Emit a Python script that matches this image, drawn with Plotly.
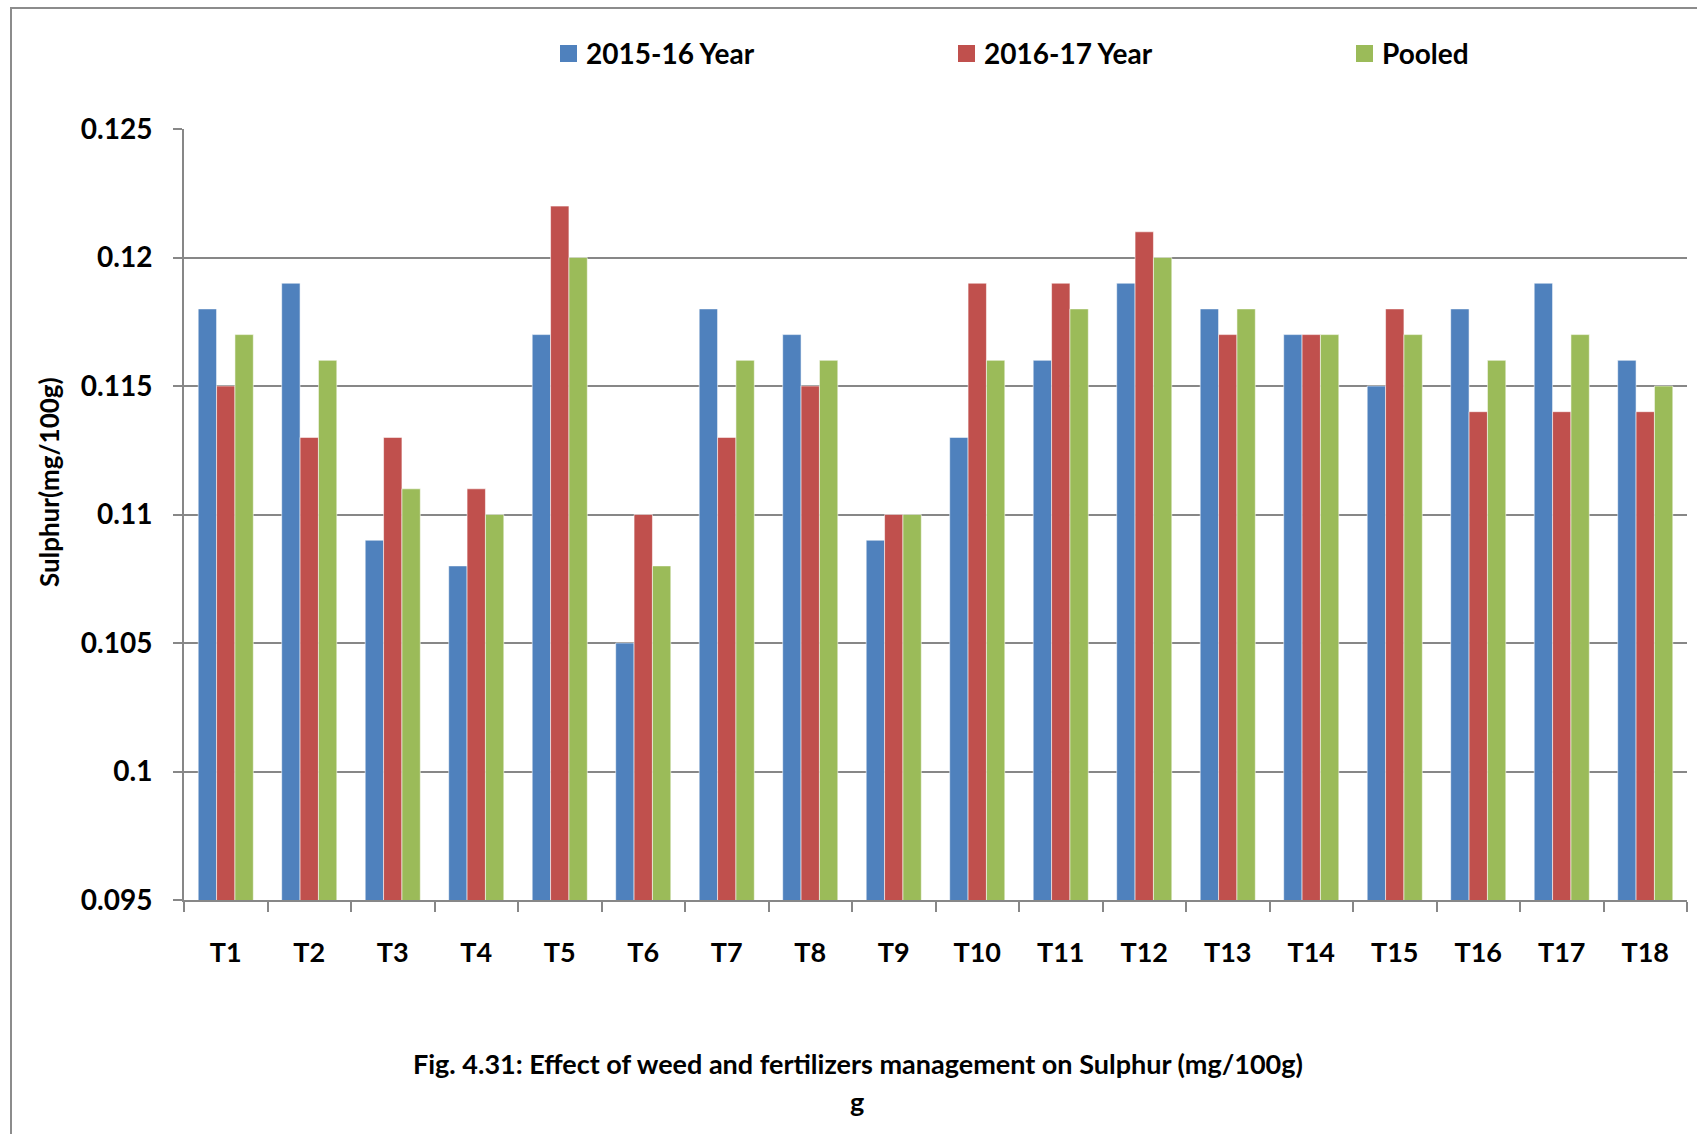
import plotly.graph_objects as go

# Treatments and sulphur content (mg/100g) for each season and the pooled mean
treatments = ["T1", "T2", "T3", "T4", "T5", "T6", "T7", "T8", "T9",
              "T10", "T11", "T12", "T13", "T14", "T15", "T16", "T17", "T18"]
year_2015_16 = [0.118, 0.119, 0.109, 0.108, 0.117, 0.105, 0.118, 0.117, 0.109,
                0.113, 0.116, 0.119, 0.118, 0.117, 0.115, 0.118, 0.119, 0.116]
year_2016_17 = [0.115, 0.113, 0.113, 0.111, 0.122, 0.110, 0.113, 0.115, 0.110,
                0.119, 0.119, 0.121, 0.117, 0.117, 0.118, 0.114, 0.114, 0.114]
pooled = [0.117, 0.116, 0.111, 0.110, 0.120, 0.108, 0.116, 0.116, 0.110,
          0.116, 0.118, 0.120, 0.118, 0.117, 0.117, 0.116, 0.117, 0.115]

series_names = ["2015-16 Year", "2016-17 Year", "Pooled"]
y_tick_values = [0.095, 0.1, 0.105, 0.11, 0.115, 0.12, 0.125]
y_tick_labels = ["0.095", "0.1", "0.105", "0.11", "0.115", "0.12", "0.125"]

colors = ["#4F81BD", "#C0504D", "#9BBB59"]
FONT = "Lato"
GRID = "#878787"

W, H = 1697, 1134
L, R, T, B = 184, 1687, 129, 900   # plot area in pixels


def px_x(x):
    return (x - L) / (R - L)


def px_y(y):
    return (B - y) / (B - T)


fig = go.Figure()
for name, vals, c in zip(series_names, [year_2015_16, year_2016_17, pooled], colors):
    fig.add_trace(go.Bar(
        x=treatments, y=vals, name=name, showlegend=False,
        marker=dict(color=c, line=dict(color="rgba(255,255,255,0.55)", width=1)),
    ))

fig.update_layout(
    width=W, height=H,
    margin=dict(l=L, r=W - R, t=T, b=H - B, autoexpand=False),
    paper_bgcolor="white", plot_bgcolor="white",
    barmode="group", bargap=0.34, bargroupgap=0,
    font=dict(family=FONT, color="black", size=28, weight="bold"),
)

fig.update_xaxes(
    type="category", showgrid=False,
    showline=True, linecolor=GRID, linewidth=2,
    ticks="outside", tickson="boundaries", ticklen=10, tickwidth=2, tickcolor=GRID,
    tickfont=dict(family=FONT, size=27, color="black", weight="bold"),
    ticklabelstandoff=28,
)
fig.update_yaxes(
    range=[0.095, 0.125], tickvals=y_tick_values, ticktext=y_tick_labels,
    showgrid=True, gridcolor=GRID, gridwidth=2,
    showline=True, linecolor=GRID, linewidth=2,
    ticks="outside", ticklen=9, tickwidth=2, tickcolor=GRID,
    tickfont=dict(family=FONT, size=28, color="black", weight="bold"),
    ticklabelstandoff=15, zeroline=False,
)

shapes = []
annotations = []

# Outer frame of the chart area
shapes.append(dict(type="rect", xref="paper", yref="paper",
                   x0=px_x(11), x1=px_x(1720), y0=px_y(1160), y1=px_y(8),
                   line=dict(color="#8C8C8C", width=2), fillcolor="rgba(0,0,0,0)",
                   layer="below"))

# Legend row
legend_x = [560, 958, 1356]
for name, c, lx in zip(series_names, colors, legend_x):
    shapes.append(dict(type="rect", xref="paper", yref="paper",
                       x0=px_x(lx), x1=px_x(lx + 17), y0=px_y(62), y1=px_y(45),
                       fillcolor=c, line=dict(width=0)))
    annotations.append(dict(xref="paper", yref="paper", x=px_x(lx + 24), y=px_y(53),
                            xanchor="left", yanchor="middle", showarrow=False,
                            text=name, font=dict(family=FONT, size=28, weight="bold")))

# Y-axis title
annotations.append(dict(xref="paper", yref="paper", x=px_x(49), y=px_y(482),
                        xanchor="center", yanchor="middle", showarrow=False,
                        textangle=-90, text="Sulphur(mg/100g)",
                        font=dict(family=FONT, size=26, weight="bold")))

# Figure caption
annotations.append(dict(xref="paper", yref="paper", x=px_x(858), y=px_y(1063),
                        xanchor="center", yanchor="middle", showarrow=False,
                        text="Fig. 4.31: Effect of weed and fertilizers management on Sulphur (mg/100g)",
                        font=dict(family=FONT, size=27, weight="bold")))
annotations.append(dict(xref="paper", yref="paper", x=px_x(857), y=px_y(1101),
                        xanchor="center", yanchor="middle", showarrow=False,
                        text="g", font=dict(family=FONT, size=27, weight="bold")))

fig.update_layout(shapes=shapes, annotations=annotations)
fig.write_html("out.html")
